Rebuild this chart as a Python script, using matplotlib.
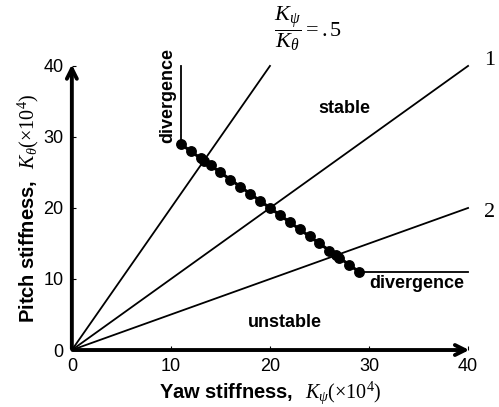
import numpy as np
import matplotlib
matplotlib.use('Agg')
import matplotlib.pyplot as plt

plt.rcParams['font.family'] = ['Liberation Sans', 'DejaVu Sans']
plt.rcParams['mathtext.fontset'] = 'custom'
plt.rcParams['mathtext.rm'] = 'Liberation Serif'
plt.rcParams['mathtext.it'] = 'Liberation Serif:italic'
plt.rcParams['mathtext.bf'] = 'Liberation Sans:bold'

# stiffness ratio lines K_theta = slope * K_psi
ratio_slopes = [2.0, 1.0, 0.5]

# stability boundary (dots)
bound_psi = [11, 12, 13, 13.33, 14, 15, 16, 17, 18, 19, 20, 21, 22, 23, 24, 25, 26, 26.67, 27, 28, 29]
bound_theta = [29, 28, 27, 26.67, 26, 25, 24, 23, 22, 21, 20, 19, 18, 17, 16, 15, 14, 13.33, 13, 12, 11]

# divergence limits
div_v_psi = [11, 11]
div_v_theta = [29, 40]
div_h_psi = [29, 40]
div_h_theta = [11, 11]

ticks = [0, 10, 20, 30, 40]

fig = plt.figure(figsize=(4.99, 4.07), dpi=100)
ax = fig.add_axes([0.144, 0.14, 0.794, 0.698])

x_end = [40 / s if s > 1 else 40 for s in ratio_slopes]
for s, xe in zip(ratio_slopes, x_end):
	ax.plot([0, xe], [0, s * xe], color='black', lw=1.3, clip_on=False)

ax.plot(bound_psi, bound_theta, color='black', lw=2.2, marker='o', ms=6.8,
		markerfacecolor='black', markeredgecolor='black', zorder=4)
ax.plot(div_v_psi, div_v_theta, color='black', lw=1.3, clip_on=False)
ax.plot(div_h_psi, div_h_theta, color='black', lw=1.3, clip_on=False)

ax.set_xlim(0, 40)
ax.set_ylim(0, 40)
for sp in ['top', 'right', 'left', 'bottom']:
	ax.spines[sp].set_visible(False)

# axes with arrows
ax.annotate('', xy=(40.4, 0), xytext=(-0.2, 0), annotation_clip=False,
			arrowprops=dict(arrowstyle='->', lw=2.8, color='black', mutation_scale=18))
ax.annotate('', xy=(0, 40.6), xytext=(0, -0.2), annotation_clip=False,
			arrowprops=dict(arrowstyle='->', lw=2.8, color='black', mutation_scale=18))

ax.set_xticks(ticks)
ax.set_yticks(ticks)
ax.tick_params(direction='in', length=3, width=0.8, labelsize=13, pad=6)

ax.set_xlabel(r'$\mathbf{Yaw\ stiffness,}\ \ K_\psi(\times10^4)$', fontsize=14.5, labelpad=3)
ax.set_ylabel(r'$\mathbf{Pitch\ stiffness,}\ \ K_\theta(\times10^4)$', fontsize=14.5, labelpad=2)

ax.text(27.5, 34, 'stable', fontsize=13, fontweight='bold', ha='center', va='center')
ax.text(21.5, 3.9, 'unstable', fontsize=13, fontweight='bold', ha='center', va='center')
ax.text(34.8, 9.3, 'divergence', fontsize=13, fontweight='bold', ha='center', va='center')
ax.text(9.7, 35.8, 'divergence', fontsize=13, fontweight='bold', ha='center', va='center', rotation=90)
ax.text(42.2, 40.8, '1', fontsize=16, family='Liberation Serif', ha='center', va='center', clip_on=False)
ax.text(42.2, 19.4, '2', fontsize=16, family='Liberation Serif', ha='center', va='center', clip_on=False)
ax.text(20.4, 45.2, r'$\dfrac{K_\psi}{K_\theta} = \mathrm{.5}$', fontsize=16, ha='left', va='center', clip_on=False)

fig.savefig('out.png', dpi=100)
